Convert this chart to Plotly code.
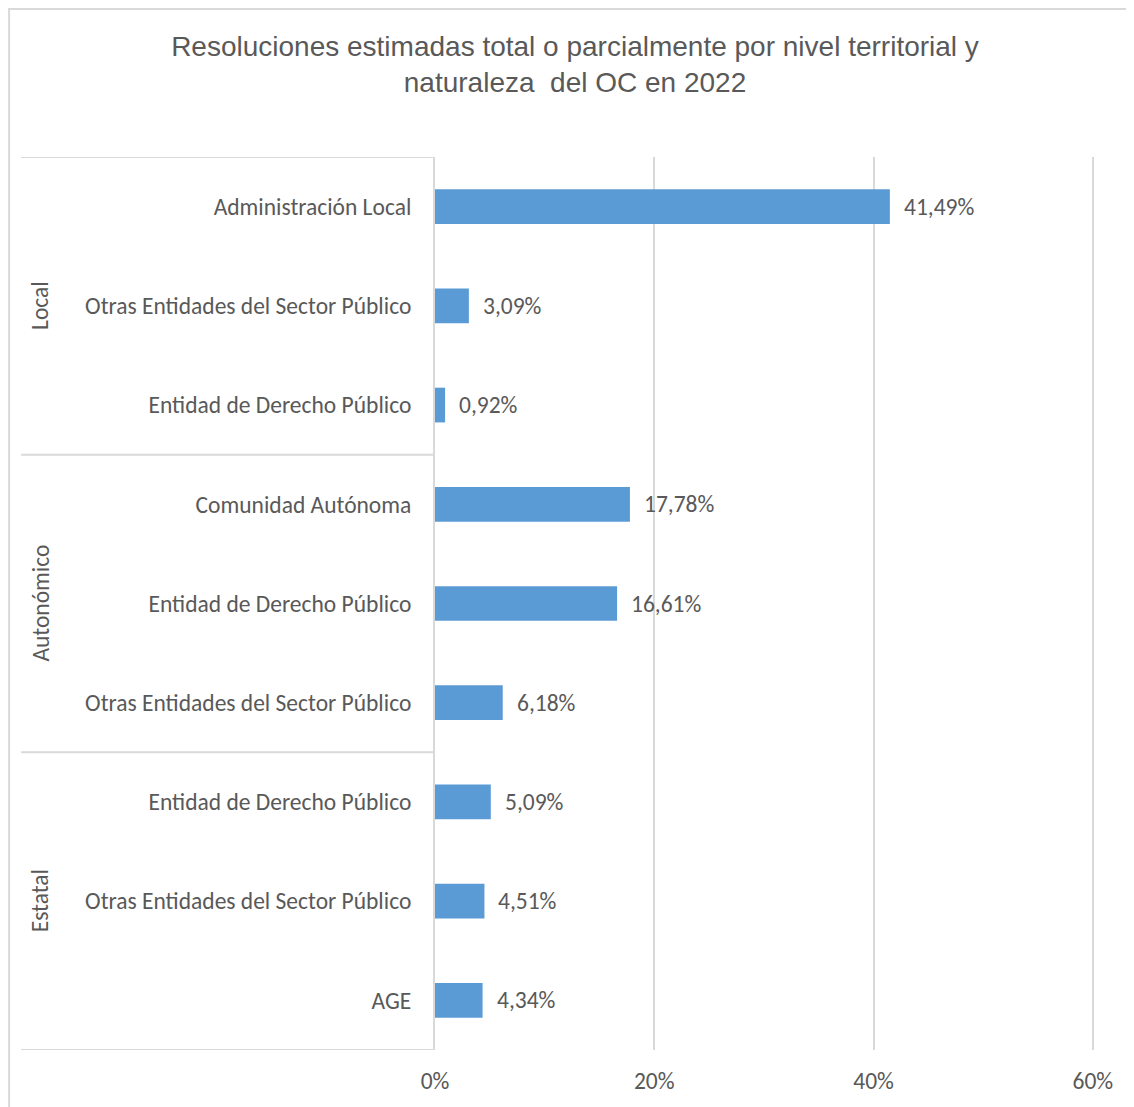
import plotly.graph_objects as go

# Data
GROUPS = ["Local", "Autonómico", "Estatal"]
GROUP_SIZES = [3, 3, 3]
LABELS = [
    "Administración Local",
    "Otras Entidades del Sector Público",
    "Entidad de Derecho Público",
    "Comunidad Autónoma",
    "Entidad de Derecho Público",
    "Otras Entidades del Sector Público",
    "Entidad de Derecho Público",
    "Otras Entidades del Sector Público",
    "AGE",
]
VALUES = [41.49, 3.09, 0.92, 17.78, 16.61, 6.18, 5.09, 4.51, 4.34]
X_TICKS = [0, 20, 40, 60]

TITLE = "Resoluciones estimadas total o parcialmente por nivel territorial y<br>naturaleza  del OC en 2022"

BAR = "#5B9BD5"
TEXT = "#595959"
GRID = "#D9D9D9"
LABEL_FONT = "Carlito, Calibri, Lato, sans-serif"
TITLE_FONT = "Liberation Sans Narrow, Arial Narrow, Liberation Sans, Arial, sans-serif"
FS = 23.5

# the page body adds an 8px offset, so the figure is 8px smaller
OFF = 8
W, H = 1134 - OFF, 1107 - OFF
X_MAX = 60.2
L, T, B = 435 - OFF, 157 - OFF, H - (1050 - OFF)
pw = (1093 - 435) * X_MAX / 60
R = W - L - pw
ph = H - T - B


def px_x(px):
    # reference pixel -> paper x
    return (px - OFF - L) / pw


def px_y(py):
    # reference pixel -> paper y
    return (H - B - (py - OFF)) / ph


ypos = list(range(len(LABELS)))

fig = go.Figure()
fig.add_bar(
    x=VALUES, y=ypos, orientation="h",
    marker=dict(color=BAR, line=dict(width=0)),
    width=0.35,
    hoverinfo="skip",
)

annotations = []
for v, y in zip(VALUES, ypos):
    annotations.append(dict(
        x=v, y=y, xref="x", yref="y", text=f"{v:.2f}%".replace(".", ","),
        showarrow=False, xanchor="left", yanchor="middle", xshift=12,
        font=dict(family=LABEL_FONT, size=FS, color=TEXT),
    ))

shapes = []
# group dividers in the label area
bounds = [0]
for n in GROUP_SIZES:
    bounds.append(bounds[-1] + n)
for b in bounds:
    yy = b - 0.5
    shapes.append(dict(type="line", xref="paper", yref="y", x0=px_x(21), x1=0,
                       y0=yy, y1=yy, line=dict(color=GRID, width=2)))
# group labels (rotated, Excel multi-level axis)
for g, a, b in zip(GROUPS, bounds[:-1], bounds[1:]):
    annotations.append(dict(
        x=px_x(40), y=(a + b - 1) / 2, xref="paper", yref="y", text=g,
        showarrow=False, textangle=-90, xanchor="center", yanchor="middle",
        font=dict(family=LABEL_FONT, size=FS, color=TEXT),
    ))
# outer chart frame (top and left edges)
shapes.append(dict(type="line", xref="paper", yref="paper", x0=px_x(OFF), x1=px_x(1140),
                   y0=px_y(OFF + 1), y1=px_y(OFF + 1), line=dict(color=GRID, width=2)))
shapes.append(dict(type="line", xref="paper", yref="paper", x0=px_x(OFF + 1), x1=px_x(OFF + 1),
                   y0=px_y(OFF), y1=px_y(1110), line=dict(color=GRID, width=2)))

fig.update_layout(
    width=W, height=H,
    margin=dict(l=L, r=R, t=T, b=B, pad=0, autoexpand=False),
    paper_bgcolor="white", plot_bgcolor="white",
    showlegend=False,
    title=dict(
        text=TITLE, x=(575 - OFF) / W, xanchor="center", xref="container",
        y=1 - (56 - OFF) / H, yanchor="top",
        font=dict(family=TITLE_FONT, size=28, color=TEXT),
    ),
    xaxis=dict(
        range=[0, X_MAX], tickvals=X_TICKS, ticktext=[f"{t}%" for t in X_TICKS],
        showgrid=True, gridcolor=GRID, gridwidth=2, zeroline=False,
        showline=False, ticks="outside", ticklen=10, tickcolor="rgba(0,0,0,0)",
        tickfont=dict(family=LABEL_FONT, size=FS, color=TEXT),
        automargin=False, fixedrange=True,
    ),
    yaxis=dict(
        range=[len(LABELS) - 0.5, -0.5], tickvals=ypos, ticktext=LABELS,
        showgrid=False, zeroline=False,
        showline=True, linecolor=GRID, linewidth=2,
        ticks="outside", ticklen=17, tickcolor="rgba(0,0,0,0)",
        tickfont=dict(family=LABEL_FONT, size=FS, color=TEXT),
        automargin=False, fixedrange=True,
    ),
    annotations=annotations,
    shapes=shapes,
)

fig.write_html("out.html")
